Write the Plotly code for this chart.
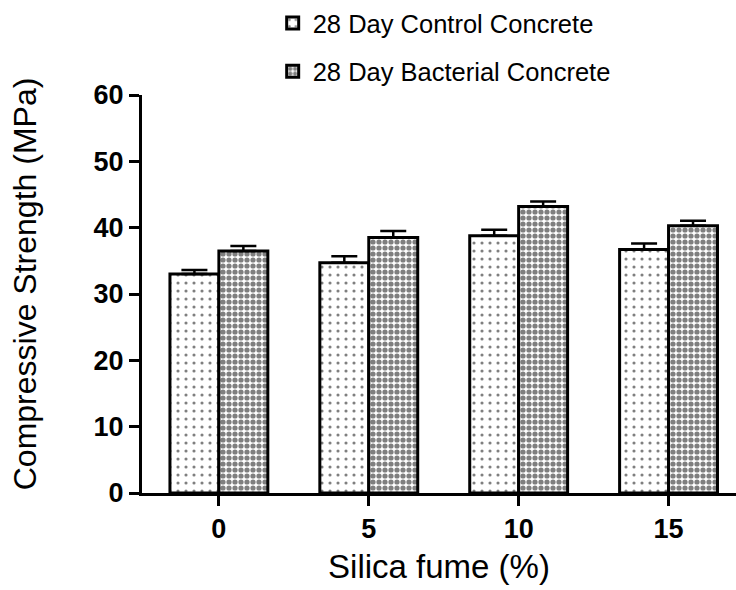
import plotly.graph_objects as go

categories = ["0", "5", "10", "15"]
control = [33.0, 34.7, 38.8, 36.7]
control_err = [0.6, 1.0, 0.9, 0.9]
bacterial = [36.5, 38.5, 43.2, 40.3]
bacterial_err = [0.75, 1.0, 0.75, 0.75]
series_names = ["28 Day Control Concrete", "28 Day Bacterial Concrete"]
y_ticks = [0, 10, 20, 30, 40, 50, 60]
y_title = "Compressive Strength (MPa)"
x_title = "Silica fume (%)"

xpos = list(range(len(categories)))
FONT = "Liberation Sans, Arial, sans-serif"

fig = go.Figure()
fig.add_trace(go.Bar(
    x=xpos, y=control, name=series_names[0], legendgroup="g1",
    marker=dict(color="white", line=dict(color="black", width=3),
                pattern=dict(shape=".", fgcolor="black", bgcolor="white", size=8, solidity=0.12)),
    error_y=dict(type="data", array=control_err, arrayminus=[0]*4, symmetric=False,
                 color="black", thickness=2.5, width=13),
))
fig.add_trace(go.Bar(
    x=xpos, y=bacterial, name=series_names[1], legendgroup="g2",
    marker=dict(color="white", line=dict(color="black", width=3),
                pattern=dict(shape=".", fgcolor="black", bgcolor="white", size=6, solidity=0.6)),
    error_y=dict(type="data", array=bacterial_err, arrayminus=[0]*4, symmetric=False,
                 color="black", thickness=2.5, width=13),
))

fig.update_layout(
    width=736, height=590,
    margin=dict(l=142, r=0, t=94, b=97),
    paper_bgcolor="white", plot_bgcolor="white",
    barmode="group", bargap=0.347, bargroupgap=0,
    font=dict(family=FONT, color="black"),
    legend=dict(x=0.22, y=1.24, xanchor="left", yanchor="top",
                font=dict(size=25.5, family=FONT, color="black"),
                tracegroupgap=12, itemwidth=30, bgcolor="rgba(0,0,0,0)"),
    xaxis=dict(range=[-0.513, 3.45], tickvals=xpos, ticktext=categories,
               showline=True, linecolor="black", linewidth=3,
               ticks="outside", ticklen=10, tickwidth=3, tickcolor="black",
               tickfont=dict(size=27, family=FONT, color="black", weight="bold"),
               showgrid=False, zeroline=False,
               title=dict(text=x_title, font=dict(size=33, family=FONT), standoff=12)),
    yaxis=dict(range=[0, 60], tickvals=y_ticks,
               showline=True, linecolor="black", linewidth=3,
               ticks="outside", ticklen=10, tickwidth=3, tickcolor="black",
               tickfont=dict(size=27, family=FONT, color="black", weight="bold"),
               showgrid=False, zeroline=False),
    annotations=[dict(text=y_title, xref="paper", yref="paper",
                      x=-0.197, y=0.527, xanchor="center", yanchor="middle",
                      textangle=-90, showarrow=False,
                      font=dict(size=32, family=FONT, color="black"))],
)

fig.write_html("out.html")
